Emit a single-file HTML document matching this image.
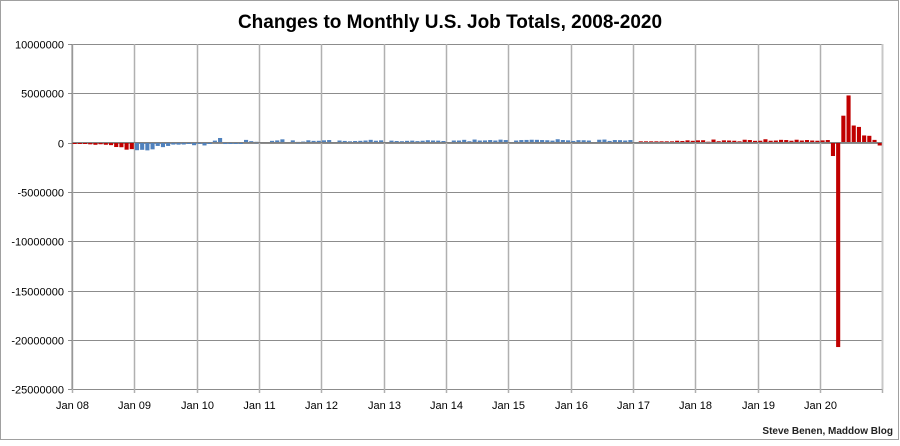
<!DOCTYPE html>
<html><head><meta charset="utf-8"><style>
html,body{margin:0;padding:0;background:#fff;}
body{width:900px;height:441px;overflow:hidden;}
text{font-family:"Liberation Sans",Arial,sans-serif;}
</style></head><body>
<svg id="c" width="900" height="441" xmlns="http://www.w3.org/2000/svg">
<rect x="0.5" y="0.5" width="898" height="439" fill="#fff" stroke="#a0a0a0"/>
<text x="450" y="28" text-anchor="middle" font-size="19" font-weight="bold" fill="#000">Changes to Monthly U.S. Job Totals, 2008-2020</text>
<g id="grid"></g>
<g id="bars"></g>
<text x="893" y="434" text-anchor="end" font-size="10" font-weight="bold" fill="#222">Steve Benen, Maddow Blog</text>
</svg>
<script>
var ns="http://www.w3.org/2000/svg",svg=document.getElementById('c'),g=document.getElementById('grid'),b=document.getElementById('bars');
function el(p,t,a,txt){var e=document.createElementNS(ns,t);for(var k in a)e.setAttribute(k,a[k]);if(txt)e.textContent=txt;p.appendChild(e);return e;}
var L=72,R=882,T=44,B=389,yw=62.33;
function Y(v){return 142.5-v*0.00984;}
var labs=["10000000","5000000","0","-5000000","-10000000","-15000000","-20000000","-25000000"];
for(var i=0;i<8;i++){var y=T+i*49.3;y=Math.round(y)+0.5;
 el(g,'line',{x1:L-4,x2:R,y1:y,y2:y,stroke:'#8c8c8c','stroke-width':1});
 el(g,'text',{x:L-8,y:y+4,'text-anchor':'end','font-size':11,fill:'#000'},labs[i]);}
for(var i=0;i<=13;i++){var x=Math.round(L+i*yw)+0.5;
 el(g,'line',{x1:x,x2:x,y1:T,y2:B+4,stroke:'#b0b0b0','stroke-width':1.5});
 if(i<13){var yy=(8+i);el(g,'text',{x:x,y:409,'text-anchor':'middle','font-size':11,fill:'#000'},"Jan "+(yy<10?"0"+yy:yy));}}
el(g,'line',{x1:L,x2:L,y1:T,y2:B,stroke:'#808080'});
el(g,'line',{x1:R+0.5,x2:R+0.5,y1:T,y2:B,stroke:'#c8c8c8','stroke-width':2});
var d=[
-2,-83,-72,-185,-233,-178,-231,-267,-459,-481,-729,-673,
-784,-743,-800,-695,-352,-472,-351,-210,-220,-204,-2,-275,
14,-300,-39,192,458,-154,-84,-31,-18,264,136,72,
0,0,168,212,322,0,217,62,96,225,166,174,
221,250,0,200,160,120,150,170,200,270,180,220,
0,190,150,130,170,190,140,180,230,200,190,150,
0,200,200,270,130,300,200,210,250,200,290,250,
0,200,250,260,280,270,250,230,190,330,250,220,
160,240,230,200,0,280,300,160,250,240,200,250,
0,120,120,120,120,120,120,120,180,150,220,170,
220,230,80,300,130,220,200,180,120,280,250,170,
180,330,180,200,270,250,180,280,200,250,200,180,
214,251,-1373,-20787,2725,4781,1726,1583,716,680,264,-306];
var w=5.194;
for(var i=0;i<d.length;i++){var v=d[i];if(!v)continue;
 var col=(i>=12&&i<108)?'#4f81bd':'#c00000';
 var x=L+i*w+0.6,y0=Y(0),y1=Y(v);
 el(b,'rect',{x:x.toFixed(2),y:Math.min(y0,y1).toFixed(2),width:4.1,height:Math.max(1.5,Math.abs(y1-y0)).toFixed(2),fill:col});}
el(b,'line',{x1:L,x2:R,y1:142.5,y2:142.5,stroke:'#808080','stroke-width':1});
</script>
</body></html>
